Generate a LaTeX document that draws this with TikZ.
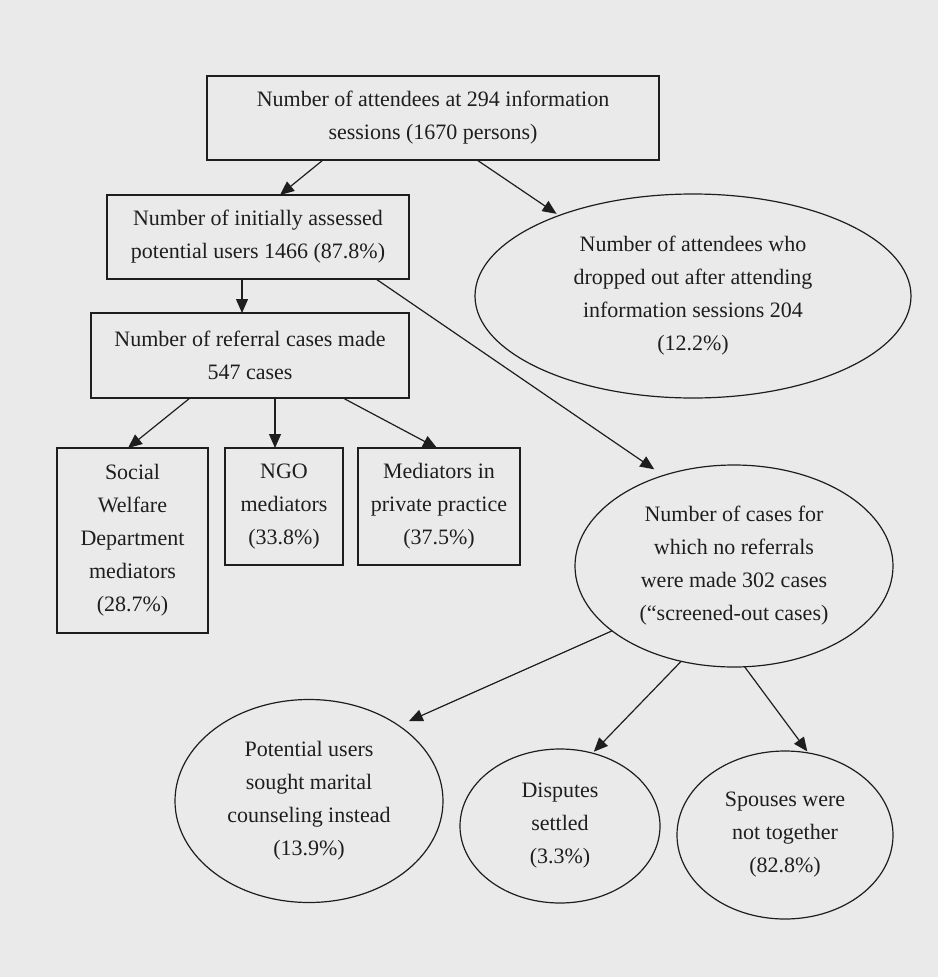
\documentclass[tikz,border=0pt]{standalone}
\usepackage{fontspec}
\setmainfont{Liberation Serif}
\usetikzlibrary{arrows.meta,shapes.geometric}
\definecolor{bgcol}{RGB}{234,234,234}
\definecolor{ink}{RGB}{30,30,30}
\begin{document}
\begin{tikzpicture}[x=1pt,y=-1pt,
  base/.style={font=\fontsize{22}{33}\selectfont, align=center, inner sep=0pt, outer sep=0pt,
               draw=ink, line width=1.2pt, text=ink},
  rbox/.style={base, rectangle},
  ebox/.style={base, ellipse},
  conn/.style={draw=ink, line width=1.2pt, -{Triangle[length=14pt,width=12pt]}}
]
\fill[bgcol] (0,0) rectangle (938,977);
\useasboundingbox (0,0) rectangle (938,977);

% rectangles
\node[rbox, minimum width=452pt, minimum height=84pt] (top) at (433,118)
  {Number of attendees at 294 information\\sessions (1670 persons)};
\node[rbox, minimum width=302pt, minimum height=84pt] (assess) at (258,237)
  {Number of initially assessed\\potential users 1466 (87.8\%)};
\node[rbox, minimum width=318pt, minimum height=85pt] (referral) at (250,355.5)
  {Number of referral cases made\\547 cases};
\node[rbox, minimum width=151pt, minimum height=185pt] (swd) at (132.5,540.5)
  {Social\\Welfare\\Department\\mediators\\(28.7\%)};
\node[rbox, minimum width=118pt, minimum height=117pt] (ngo) at (284,506.5)
  {NGO\\mediators\\(33.8\%)};
\node[rbox, minimum width=162pt, minimum height=117pt] (private) at (439,506.5)
  {Mediators in\\private practice\\(37.5\%)};

% ellipses
\node[ebox, minimum width=436pt, minimum height=204pt] (dropout) at (693,296)
  {Number of attendees who\\dropped out after attending\\information sessions 204\\(12.2\%)};
\node[ebox, minimum width=318pt, minimum height=202pt] (screened) at (734,566)
  {Number of cases for\\which no referrals\\were made 302 cases\\(“screened-out cases)};
\node[ebox, minimum width=268pt, minimum height=203pt] (marital) at (309,801)
  {Potential users\\sought marital\\counseling instead\\(13.9\%)};
\node[ebox, minimum width=200pt, minimum height=154pt] (settled) at (560,826)
  {Disputes\\settled\\(3.3\%)};
\node[ebox, minimum width=216pt, minimum height=168pt] (apart) at (785,835)
  {Spouses were\\not together\\(82.8\%)};

% connectors
\draw[conn] ([xshift=-110pt]top.south) -- ([xshift=22pt]assess.north);
\draw[conn, shorten >=3pt] ([xshift=44pt]top.south) -- (dropout.149);
\draw[conn] ([xshift=-16pt]assess.south) -- ([xshift=-8pt]referral.north);
\draw[conn, shorten >=11pt] ([xshift=118pt]assess.south) -- (screened.128);
\draw[conn] ([xshift=-60pt]referral.south) -- ([xshift=-4.5pt]swd.north);
\draw[conn] ([xshift=25pt]referral.south) -- ([xshift=-9pt]ngo.north);
\draw[conn] ([xshift=93pt]referral.south) -- ([xshift=-2pt]private.north);
\draw[conn, shorten >=11pt] (screened.208) -- (marital.40);
\draw[conn, shorten >=2pt] (screened.241) -- (settled.66);
\draw[conn, shorten >=2pt] (screened.276) -- (apart.74);
\end{tikzpicture}
\end{document}
